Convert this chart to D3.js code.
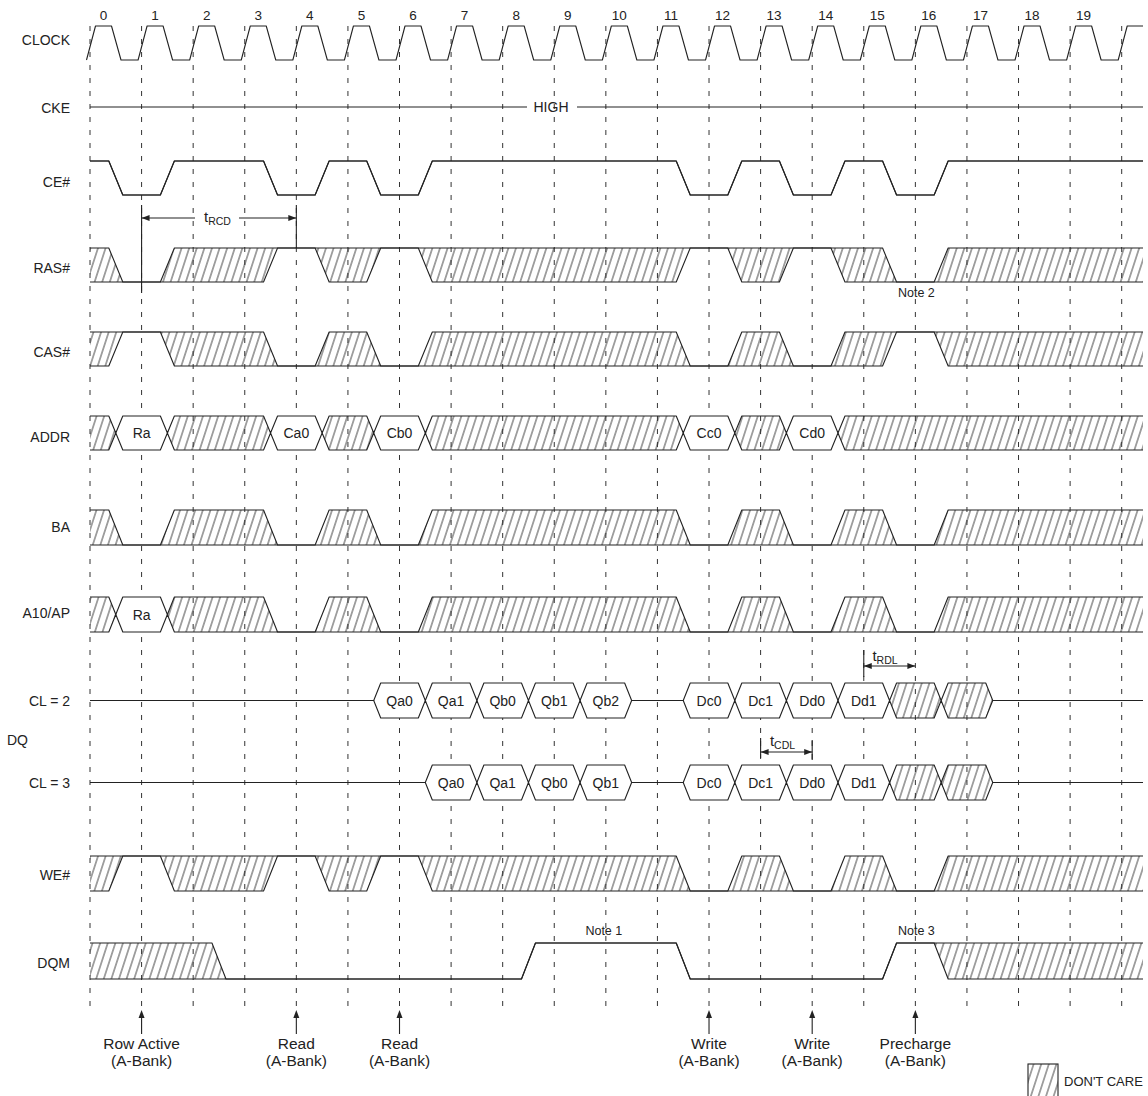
<!DOCTYPE html>
<html>
<head>
<meta charset="utf-8">
<style>
  body { margin: 0; background: #fff; }
  text { font-family: Arial, "Liberation Sans", Helvetica, sans-serif; fill: #222; }
  .name { font-size: 14px; }
  .tick { font-size: 13.5px; }
  .val { font-size: 14px; }
  .cmd { font-size: 15.5px; }
  .note { font-size: 12.5px; }
  .wave { fill: none; stroke: #222; stroke-width: 1.1; stroke-linejoin: round; }
  .grid { stroke: #333; stroke-width: 1; stroke-dasharray: 5,8; }
</style>
</head>
<body>
<div id="chart"></div>
<script src="https://d3js.org/d3.v7.min.js"></script>
<script>
// clock cycle numbers shown above the clock
var clockTicks = d3.range(20).map(String);

// state of each signal at every rising edge 0..20
// H / L = level, X = don't care, Z = floating bus, anything else = bus value
var ceN  = ["H","L","H","H","L","H","L","H","H","H","H","H","L","H","L","H","L","H","H","H","H"];
var rasN = ["X","L","X","X","H","X","H","X","X","X","X","X","H","X","H","X","L","X","X","X","X"];
var casN = ["X","H","X","X","L","X","L","X","X","X","X","X","L","X","L","X","H","X","X","X","X"];
var addr = ["X","Ra","X","X","Ca0","X","Cb0","X","X","X","X","X","Cc0","X","Cd0","X","X","X","X","X","X"];
var ba   = ["X","L","X","X","L","X","L","X","X","X","X","X","L","X","L","X","L","X","X","X","X"];
var a10  = ["X","Ra","X","X","L","X","L","X","X","X","X","X","L","X","L","X","L","X","X","X","X"];
var dqCl2 = ["Z","Z","Z","Z","Z","Z","Qa0","Qa1","Qb0","Qb1","Qb2","Z","Dc0","Dc1","Dd0","Dd1","X","X","Z","Z","Z"];
var dqCl3 = ["Z","Z","Z","Z","Z","Z","Z","Qa0","Qa1","Qb0","Qb1","Z","Dc0","Dc1","Dd0","Dd1","X","X","Z","Z","Z"];
var weN  = ["X","H","X","X","H","X","H","X","X","X","X","X","L","X","L","X","L","X","X","X","X"];
var dqm  = ["X","X","X","L","L","L","L","L","L","H","H","H","L","L","L","L","H","X","X","X","X"];

// commands issued at clock edges
var cmdEdges = [1, 4, 6, 12, 14, 16];
var cmdNames = ["Row Active", "Read", "Read", "Write", "Write", "Precharge"];

var W = 1148, H = 1096;
var svg = d3.select("#chart").append("svg").attr("width", W).attr("height", H);
var x = d3.scaleLinear().domain([0, 20]).range([90, 1121.7]);
var xEnd = 1143;
var line = d3.line();

var defs = svg.append("defs");
defs.append("pattern").attr("id", "hatch")
  .attr("patternUnits", "userSpaceOnUse")
  .attr("width", 7.6).attr("height", 10)
  .attr("patternTransform", "skewX(-18)")
  .append("line")
  .attr("x1", 3.8).attr("y1", -1).attr("x2", 3.8).attr("y2", 11)
  .attr("stroke", "#333").attr("stroke-width", 0.9);

var gGrid = svg.append("g");
var gFill = svg.append("g");
var gWave = svg.append("g");
var gText = svg.append("g");

// dashed lines at each rising edge
gGrid.selectAll("line").data(d3.range(21)).join("line")
  .attr("class", "grid")
  .attr("x1", d => x(d)).attr("x2", d => x(d))
  .attr("y1", 26).attr("y2", 1007);

// clock
var ck = [];
var ckTop = 26, ckBot = 60;
d3.range(21).forEach(function(k) {
  var e = x(k);
  ck.push([e - 3.5, ckBot], [e + 5.5, ckTop], [e + 21.5, ckTop], [e + 31, ckBot]);
});
ck = ck.filter(p => p[0] <= xEnd);
ck.push([xEnd, ckTop]);
gWave.append("path").attr("class", "wave").attr("d", line(ck));
gText.selectAll("text.tick").data(clockTicks).join("text")
  .attr("class", "tick").attr("text-anchor", "middle")
  .attr("x", (d, i) => x(i) + 13.5).attr("y", 20).text(d => d);

function nameLabel(t, y) {
  gText.append("text").attr("class", "name").attr("text-anchor", "end")
    .attr("x", 70).attr("y", y + 5).text(t);
}
nameLabel("CLOCK", 40);

// CKE
nameLabel("CKE", 108);
gWave.append("path").attr("class", "wave").attr("d", line([[x(0), 107], [527, 107]]));
gWave.append("path").attr("class", "wave").attr("d", line([[577, 107], [xEnd, 107]]));
gText.append("text").attr("class", "name").attr("text-anchor", "middle")
  .attr("x", 551).attr("y", 112).text("HIGH");

function isLevel(s) { return s === "H" || s === "L"; }
function isWide(s) { return !isLevel(s) && s !== "Z"; }

function runs(states, merge) {
  var out = [];
  states.forEach(function(s, i) {
    var last = out[out.length - 1];
    var same = last && last.s === s && (isLevel(s) || s === "Z" || (s === "X" && merge));
    if (same) last.end = i; else out.push({s: s, start: i, end: i, U: [], D: []});
  });
  return out;
}

function drawSignal(states, top, bot, merge) {
  var w = 7, mid = (top + bot) / 2;
  var uy = s => s === "L" ? bot : s === "Z" ? mid : top;
  var dy = s => s === "H" ? top : s === "Z" ? mid : bot;
  var rs = runs(states, merge);
  rs[0].U.push([x(0), uy(rs[0].s)]);
  rs[0].D.push([x(0), dy(rs[0].s)]);
  for (var i = 0; i < rs.length - 1; i++) {
    var A = rs[i], B = rs[i + 1], a = A.s, b = B.s;
    var c = x(A.end + 0.5);
    if (!isLevel(a) && !isLevel(b)) {
      if (a === "Z") { A.U.push([c, mid]); A.D.push([c, mid]); }
      else { A.U.push([c - w, top], [c, mid]); A.D.push([c - w, bot], [c, mid]); }
      if (b === "Z") { B.U.push([c, mid]); B.D.push([c, mid]); }
      else { B.U.push([c, mid], [c + w, top]); B.D.push([c, mid], [c + w, bot]); }
    } else {
      var u0 = [c - w, uy(a)], u1 = [c + w, uy(b)], d0 = [c - w, dy(a)], d1 = [c + w, dy(b)];
      if (a === "X") { A.U.push(u0, u1); A.D.push(d0, d1); B.U.push(u1); B.D.push(d1); }
      else { A.U.push(u0); A.D.push(d0); B.U.push(u0, u1); B.D.push(d0, d1); }
    }
  }
  var L = rs[rs.length - 1];
  L.U.push([xEnd, uy(L.s)]);
  L.D.push([xEnd, dy(L.s)]);

  rs.forEach(function(r) {
    if (!isWide(r.s)) return;
    var poly = r.U.concat(r.D.slice().reverse());
    gFill.append("path").attr("d", line(poly) + "Z")
      .attr("fill", r.s === "X" ? "url(#hatch)" : "#fff").attr("stroke", "none");
    if (r.s !== "X") {
      gText.append("text").attr("class", "val").attr("text-anchor", "middle")
        .attr("x", x((r.start + r.end) / 2)).attr("y", mid + 5).text(r.s);
    }
  });
  var allU = [], allD = [];
  rs.forEach(function(r) { allU = allU.concat(r.U); allD = allD.concat(r.D); });
  gWave.append("path").attr("class", "wave").attr("d", line(allU));
  gWave.append("path").attr("class", "wave").attr("d", line(allD));
}

var rows = [
  {name: "CE#",    data: ceN,   top: 161, bot: 195, label: 182, merge: true},
  {name: "RAS#",   data: rasN,  top: 248, bot: 282, label: 268, merge: true},
  {name: "CAS#",   data: casN,  top: 332, bot: 366, label: 352, merge: true},
  {name: "ADDR",   data: addr,  top: 416, bot: 450, label: 437, merge: true},
  {name: "BA",     data: ba,    top: 510, bot: 545, label: 527, merge: true},
  {name: "A10/AP", data: a10,   top: 597, bot: 632, label: 613, merge: true},
  {name: "CL = 2", data: dqCl2, top: 683, bot: 718, label: 701, merge: false},
  {name: "CL = 3", data: dqCl3, top: 765, bot: 800, label: 783, merge: false},
  {name: "WE#",    data: weN,   top: 856, bot: 891, label: 875, merge: true},
  {name: "DQM",    data: dqm,   top: 943, bot: 979, label: 963, merge: true}
];
rows.forEach(function(r) {
  nameLabel(r.name, r.label);
  drawSignal(r.data, r.top, r.bot, r.merge);
});
gText.append("text").attr("class", "name").attr("x", 7).attr("y", 745).text("DQ");

// arrows
function head(px, py, dir) {
  var s = 8, h = 3, pts;
  if (dir === "left") pts = [[px, py], [px + s, py - h], [px + s, py + h]];
  if (dir === "right") pts = [[px, py], [px - s, py - h], [px - s, py + h]];
  if (dir === "up") pts = [[px, py], [px - h, py + s], [px + h, py + s]];
  gWave.append("path").attr("d", line(pts) + "Z").attr("fill", "#222");
}
function seg(pts) {
  gWave.append("path").attr("class", "wave").attr("d", line(pts));
}
function tLabel(cx, y, sub) {
  var t = gText.append("text").attr("text-anchor", "middle").attr("x", cx).attr("y", y);
  t.append("tspan").attr("font-size", 15).text("t");
  t.append("tspan").attr("font-size", 10.5).attr("dy", 3).text(sub);
}

// tRCD
seg([[x(1), 205], [x(1), 293]]);
seg([[x(4), 205], [x(4), 248]]);
seg([[x(1), 218], [195, 218]]);
seg([[239, 218], [x(4), 218]]);
head(x(1), 218, "left");
head(x(4), 218, "right");
tLabel(217.5, 222, "RCD");

// tRDL
seg([[x(15), 650], [x(15), 677]]);
seg([[x(15), 666], [x(16), 666]]);
head(x(15), 666, "left");
head(x(16), 666, "right");
tLabel(885, 661, "RDL");

// tCDL
seg([[x(13), 738], [x(13), 758]]);
seg([[x(14), 740], [x(14), 760]]);
seg([[x(13), 752], [x(14), 752]]);
head(x(13), 752, "left");
head(x(14), 752, "right");
tLabel(782.5, 746, "CDL");

// notes
gText.append("text").attr("class", "note").attr("text-anchor", "middle")
  .attr("x", x(16) + 1).attr("y", 297).text("Note 2");
gText.append("text").attr("class", "note").attr("text-anchor", "middle")
  .attr("x", x(10) - 2).attr("y", 935).text("Note 1");
gText.append("text").attr("class", "note").attr("text-anchor", "middle")
  .attr("x", x(16) + 1).attr("y", 935).text("Note 3");

// command arrows
cmdEdges.forEach(function(k, i) {
  var cx = x(k);
  seg([[cx, 1016], [cx, 1034]]);
  head(cx, 1010, "up");
  var t = gText.append("text").attr("class", "cmd").attr("text-anchor", "middle");
  t.append("tspan").attr("x", cx).attr("y", 1049).text(cmdNames[i]);
  t.append("tspan").attr("x", cx).attr("y", 1066).text("(A-Bank)");
});

// legend
gFill.append("rect").attr("x", 1028).attr("y", 1064).attr("width", 30).attr("height", 34)
  .attr("fill", "url(#hatch)");
gWave.append("rect").attr("x", 1028).attr("y", 1064).attr("width", 30).attr("height", 34)
  .attr("fill", "none").attr("stroke", "#222").attr("stroke-width", 1.1);
gText.append("text").attr("font-size", "13px")
  .attr("x", 1064).attr("y", 1086).text("DON'T CARE");
</script>
</body>
</html>
